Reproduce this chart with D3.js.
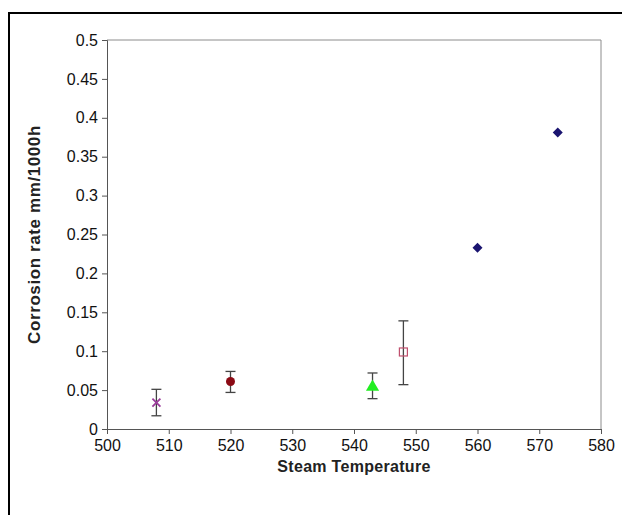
<!DOCTYPE html>
<html>
<head>
<meta charset="utf-8">
<script src="https://cdn.jsdelivr.net/npm/d3@7"></script>
<style>
  body { margin: 0; background: #fff; }
  svg { display: block; font-family: "Liberation Sans", Arial, sans-serif; }
</style>
</head>
<body>
<svg id="chart" width="622" height="515"></svg>
<script>
// values
const temps   = [508, 520, 543, 548, 560, 573];
const rates   = [0.034, 0.061, 0.054, 0.099, 0.233, 0.381];
const errLow  = [0.017, 0.047, 0.039, 0.057, null, null];
const errHigh = [0.051, 0.074, 0.072, 0.139, null, null];
const symbols = ["cross", "circle", "triangle", "square", "diamond", "diamond"];
const xTicks = [500, 510, 520, 530, 540, 550, 560, 570, 580];
const yTicks = [0, 0.05, 0.1, 0.15, 0.2, 0.25, 0.3, 0.35, 0.4, 0.45, 0.5];

const svg = d3.select("#chart");
const margin = {left: 107, right: 21, top: 40, bottom: 86};
const width = 622, height = 515;

const x = d3.scaleLinear().domain([500, 580]).range([margin.left, width - margin.right]);
const y = d3.scaleLinear().domain([0, 0.5]).range([height - margin.bottom, margin.top]);

// outer frame (runs off the right and bottom of the picture)
svg.append("rect")
    .attr("x", 9).attr("y", 13)
    .attr("width", 700).attr("height", 600)
    .attr("fill", "none")
    .attr("stroke", "#000")
    .attr("stroke-width", 2);

// plot area border (top and right)
svg.append("path")
    .attr("d", `M${x(500)},${y(0.5)}H${x(580)}V${y(0)}`)
    .attr("fill", "none")
    .attr("stroke", "#8c8c8c")
    .attr("stroke-width", 1);

const xAxis = svg.append("g")
    .attr("transform", `translate(0,${y(0)})`)
    .call(d3.axisBottom(x).tickValues(xTicks).tickSize(5).tickPadding(6).tickFormat(d3.format("d")));

const yAxis = svg.append("g")
    .attr("transform", `translate(${x(500)},0)`)
    .call(d3.axisLeft(y).tickValues(yTicks).tickSize(5).tickPadding(4).tickFormat(d => String(d)));

[xAxis, yAxis].forEach(g => {
    g.select(".domain").attr("stroke", "#555");
    g.selectAll(".tick line").attr("stroke", "#555");
    g.selectAll("text").attr("fill", "#111").style("font-size", "16px");
});

svg.append("text")
    .attr("x", (x(500) + x(580)) / 2)
    .attr("y", 472)
    .attr("text-anchor", "middle")
    .style("font-size", "16px")
    .style("font-weight", "bold")
    .style("letter-spacing", "0.3px")
    .attr("fill", "#222")
    .text("Steam Temperature");

svg.append("text")
    .attr("transform", `translate(40,${(y(0) + y(0.5)) / 2}) rotate(-90)`)
    .attr("text-anchor", "middle")
    .style("font-size", "17px")
    .style("font-weight", "bold")
    .style("letter-spacing", "0.6px")
    .attr("fill", "#222")
    .text("Corrosion rate mm/1000h");

const points = temps.map((t, i) => ({t, r: rates[i], lo: errLow[i], hi: errHigh[i], s: symbols[i]}));

// error bars
const bars = svg.append("g")
    .attr("stroke", "#444")
    .attr("stroke-width", 1.3)
    .selectAll("g")
    .data(points.filter(d => d.lo !== null))
    .join("g");
bars.append("line")
    .attr("x1", d => x(d.t)).attr("x2", d => x(d.t))
    .attr("y1", d => y(d.lo)).attr("y2", d => y(d.hi));
bars.append("line")
    .attr("x1", d => x(d.t) - 5).attr("x2", d => x(d.t) + 5)
    .attr("y1", d => y(d.lo)).attr("y2", d => y(d.lo));
bars.append("line")
    .attr("x1", d => x(d.t) - 5).attr("x2", d => x(d.t) + 5)
    .attr("y1", d => y(d.hi)).attr("y2", d => y(d.hi));

// markers
const mark = svg.append("g")
    .selectAll("g")
    .data(points)
    .join("g")
    .attr("transform", d => `translate(${x(d.t)},${y(d.r)})`);

mark.filter(d => d.s === "cross").append("path")
    .attr("d", "M-4,-4L4,4M-4,4L4,-4")
    .attr("stroke", "#9a3c9a")
    .attr("stroke-width", 1.8);

mark.filter(d => d.s === "circle").append("circle")
    .attr("r", 4.5)
    .attr("fill", "#8b0a14");

mark.filter(d => d.s === "triangle").append("path")
    .attr("d", d3.symbol(d3.symbolTriangle, 75))
    .attr("fill", "#22ee22");

mark.filter(d => d.s === "square").append("rect")
    .attr("x", -4).attr("y", -4)
    .attr("width", 8).attr("height", 8)
    .attr("fill", "none")
    .attr("stroke", "#c0506e")
    .attr("stroke-width", 1.2);

mark.filter(d => d.s === "diamond").append("path")
    .attr("d", "M0,-5L5,0L0,5L-5,0Z")
    .attr("fill", "#1a1470");
</script>
</body>
</html>
